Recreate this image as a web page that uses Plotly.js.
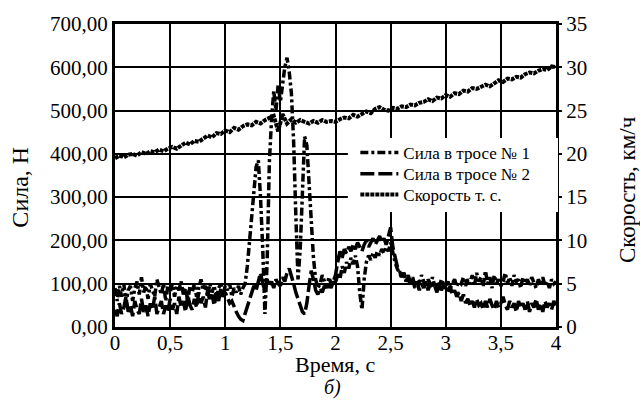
<!DOCTYPE html>
<html>
<head>
<meta charset="utf-8">
<script src="https://cdn.plot.ly/plotly-3.0.1.min.js"></script>
<style>html,body{margin:0;padding:0;background:#fff;}#chart{width:640px;height:400px;}</style>
</head>
<body>
<div id="chart"></div>
<script>
// Time grid (s)
const forceStep = 0.02;   // sampling of force records
const speedStep = 0.04;   // sampling of speed record

// Force in cable No 1, N (t = 0 … 4 s, step 0.02 s)
const forceCable1 = [
  90, 60, 95, 70, 100, 55, 85, 95, 60, 90,
  105, 75, 115, 80, 95, 65, 100, 85, 70, 110,
  90, 75, 100, 60, 95, 80, 100, 70, 95, 85,
  105, 75, 90, 60, 95, 80, 100, 70, 90, 110,
  85, 95, 70, 100, 80, 95, 65, 90, 100, 75,
  95, 85, 100, 70, 90, 80, 95, 75, 90, 100,
  140, 200, 260, 320, 370, 385, 300, 180, 30, 150,
  380, 480, 545, 500, 560, 520, 560, 600, 622, 590,
  540, 430, 260, 110, 180, 320, 440, 420, 330, 240,
  160, 110, 90, 100, 120, 105, 90, 115, 100, 110,
  100, 125, 110, 140, 125, 150, 135, 160, 145, 165,
  140, 80, 40, 110, 150, 165, 155, 170, 160, 175,
  165, 180, 170, 185, 175, 195, 170, 150, 135, 125,
  115, 125, 105, 120, 100, 115, 95, 110, 100, 120,
  105, 90, 110, 100, 115, 95, 105, 90, 110, 100,
  95, 105, 90, 100, 110, 95, 105, 100, 115, 95,
  110, 100, 120, 95, 125, 105, 115, 95, 130, 100,
  115, 90, 120, 100, 110, 95, 105, 125, 100, 115,
  95, 120, 105, 110, 90, 115, 100, 110, 95, 115,
  100, 90, 110, 100, 115, 95, 105, 90, 110, 100,
  105
];

// Force in cable No 2, N (t = 0 … 4 s, step 0.02 s)
const forceCable2 = [
  40, 25, 55, 30, 45, 70, 35, 50, 25, 60,
  40, 30, 65, 35, 50, 25, 55, 40, 70, 30,
  45, 60, 30, 50, 35, 65, 40, 55, 30, 70,
  45, 60, 35, 75, 50, 40, 65, 45, 80, 55,
  70, 45, 85, 60, 75, 50, 80, 60, 90, 70,
  80, 65, 55, 60, 45, 35, 25, 18, 15, 30,
  45, 60, 80, 95, 85, 110, 125, 100, 85, 110,
  95, 105, 90, 110, 100, 95, 115, 105, 125, 135,
  120, 100, 80, 65, 45, 35, 30, 55, 95, 130,
  110, 85, 75, 90, 80, 95, 85, 100, 90, 105,
  120, 150, 175, 160, 180, 170, 185, 175, 190, 180,
  195, 185, 175, 190, 200, 185, 195, 205, 190, 200,
  210, 195, 205, 190, 210, 230, 185, 160, 140, 130,
  115, 125, 105, 115, 95, 110, 90, 105, 85, 100,
  90, 105, 85, 100, 90, 95, 80, 100, 85, 95,
  90, 80, 95, 75, 85, 70, 80, 60, 75, 55,
  65, 50, 60, 45, 65, 50, 55, 40, 60, 45,
  65, 50, 40, 60, 45, 55, 70, 50, 40, 60,
  45, 55, 35, 60, 45, 55, 40, 60, 35, 55,
  45, 65, 40, 55, 35, 60, 45, 55, 40, 60,
  50
];

// Vehicle speed, km/h (t = 0 … 4 s, step 0.04 s)
const vehicleSpeed = [
  19.5, 19.8, 19.6, 19.9, 20.0, 19.8, 20.2, 20.0, 20.3, 20.2,
  20.5, 20.3, 20.6, 20.8, 20.6, 21.0, 21.3, 21.1, 21.5, 21.4,
  21.8, 22.1, 21.9, 22.4, 22.3, 22.7, 22.5, 23.0, 22.8, 23.2,
  23.4, 23.3, 23.7, 23.5, 23.9, 24.2, 24.4, 22.6, 24.6, 23.5,
  24.0, 23.6, 23.9, 23.7, 23.5, 23.8, 23.6, 23.9, 23.7, 23.8,
  23.7, 24.0, 24.2, 24.1, 24.5, 24.3, 24.6, 24.9, 24.7, 25.2,
  25.4, 25.1, 25.0, 25.3, 25.2, 25.5, 25.4, 25.7, 25.6, 25.9,
  26.0, 26.3, 26.1, 26.5, 26.4, 26.8, 26.6, 27.0, 26.9, 27.3,
  27.2, 27.6, 27.5, 27.8, 28.0, 27.8, 28.2, 28.5, 28.3, 28.7,
  28.6, 28.9, 28.8, 29.2, 29.4, 29.3, 29.6, 29.8, 29.7, 30.1,
  30.0
];

const seriesNames = ['Сила в тросе № 1', 'Сила в тросе № 2', 'Скорость т. с.'];
const xTitle = 'Время, с';
const yTitle = 'Сила, Н';
const y2Title = 'Скорость, км/ч';
const subLabel = 'б)';

const tForce = forceCable1.map((_, i) => +(i * forceStep).toFixed(2));
const tSpeed = vehicleSpeed.map((_, i) => +(i * speedStep).toFixed(2));

const FONT = 'Liberation Serif';

const traces = [
  {x: tForce, y: forceCable1, type: 'scatter', mode: 'lines', name: seriesNames[0], legend: 'legend',
   line: {color: '#000', width: 3.5, dash: '8px,3px,3px,3px'}},
  {x: tForce, y: forceCable2, type: 'scatter', mode: 'lines', name: seriesNames[1], legend: 'legend2',
   line: {color: '#000', width: 3.5, dash: '14px,4px'}},
  {x: tSpeed, y: vehicleSpeed, type: 'scatter', mode: 'lines', name: seriesNames[2], yaxis: 'y2', legend: 'legend3',
   line: {color: '#000', width: 4, dash: '4px,1px'}}
];

function legendAt(yTop) {
  return {x: 0.545, y: yTop, xanchor: 'left', yanchor: 'top', bgcolor: 'rgba(0,0,0,0)',
          borderwidth: 0, itemwidth: 38, font: {family: FONT, size: 17, color: '#000'}};
}

const layout = {
  width: 640, height: 400,
  margin: {l: 115, r: 84, t: 24, b: 73},
  paper_bgcolor: '#fff', plot_bgcolor: '#fff',
  separators: ', ',
  font: {family: FONT, color: '#000', size: 21},
  showlegend: true,
  legend: legendAt(0.634),
  legend2: legendAt(0.564),
  legend3: legendAt(0.495),
  xaxis: {range: [0, 4], tick0: 0, dtick: 0.5, showgrid: true, gridcolor: '#000', gridwidth: 2,
          zeroline: false, showline: true, linecolor: '#000', linewidth: 3, mirror: true,
          ticks: '', ticklabelstandoff: -5, tickfont: {family: FONT, size: 21}, automargin: false},
  yaxis: {range: [0, 700], tick0: 0, dtick: 100, tickformat: '.2f', showgrid: true, gridcolor: '#000',
          gridwidth: 2, zeroline: false, showline: true, linecolor: '#000', linewidth: 3, mirror: true,
          ticks: '', tickfont: {family: FONT, size: 21}, automargin: false},
  yaxis2: {range: [0, 35], tick0: 0, dtick: 5, overlaying: 'y', side: 'right', showgrid: false,
           zeroline: false, showline: false, ticks: 'outside', ticklen: 5, tickwidth: 2, tickcolor: '#000',
           tickfont: {family: FONT, size: 21}, automargin: false},
  shapes: [
    {type: 'rect', xref: 'paper', yref: 'paper', x0: 0.528, x1: 1.0045, y0: 0.3795, y1: 0.6238,
     fillcolor: '#fff', line: {width: 0}, layer: 'above'}
  ],
  annotations: [
    {text: xTitle, xref: 'paper', yref: 'paper', x: 0.499, y: -0.1254, xanchor: 'center', yanchor: 'middle',
     showarrow: false, font: {family: FONT, size: 22}},
    {text: yTitle, xref: 'paper', yref: 'paper', x: -0.2154, y: 0.46, xanchor: 'center', yanchor: 'middle',
     textangle: -90, showarrow: false, font: {family: FONT, size: 24}},
    {text: y2Title, xref: 'paper', yref: 'paper', x: 1.161, y: 0.452, xanchor: 'center', yanchor: 'middle',
     textangle: -90, showarrow: false, font: {family: FONT, size: 23}},
    {text: subLabel, xref: 'paper', yref: 'paper', x: 0.494, y: -0.2013, xanchor: 'center', yanchor: 'middle',
     showarrow: false, font: {family: FONT, size: 20, style: 'italic'}}
  ]
};

Plotly.newPlot('chart', traces, layout, {staticPlot: true, displayModeBar: false});
</script>
</body>
</html>
